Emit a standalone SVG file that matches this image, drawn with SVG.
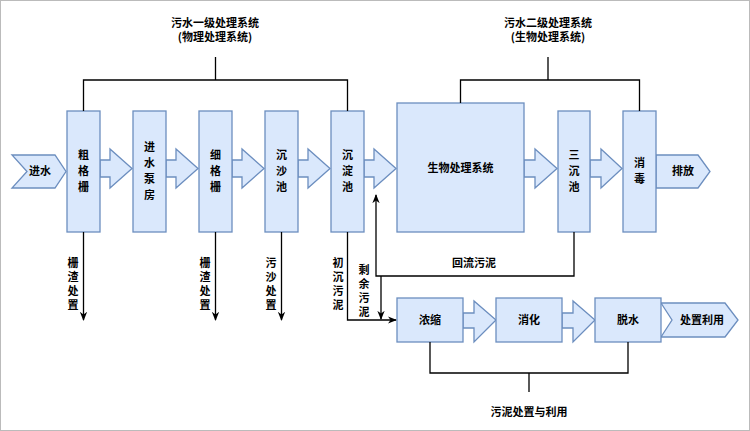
<svg xmlns="http://www.w3.org/2000/svg" width="750" height="431" viewBox="0 0 750 431">
<defs>
<style>
.b{fill:#dae8fc;stroke:#6c8ebf;stroke-width:1.3}
.l{fill:none;stroke:#000;stroke-width:1.3}
text{font-family:"Noto Sans CJK SC","Liberation Sans",sans-serif;font-size:11px;font-weight:bold;text-anchor:middle;fill:#000}
</style>
<marker id="a" viewBox="0 0 10 10" refX="9" refY="5" markerWidth="7" markerHeight="7" orient="auto"><path d="M0,1L10,5L0,9L3,5Z" fill="#000"/></marker>
</defs>
<rect x="0.5" y="0.5" width="749" height="430" fill="#fff" stroke="#bbb"/>
<g id="arrows">
<path class="b" d="M12,155H55L66,171.5L55,188H12L27,171.5Z"/>
<path class="b" d="M100,160H110V149L132,168.5L110,188V177H100Z"/>
<path class="b" d="M166,160H176V149L198,168.5L176,188V177H166Z"/>
<path class="b" d="M232,160H242V149L264,168.5L242,188V177H232Z"/>
<path class="b" d="M298,160H308V149L330,168.5L308,188V177H298Z"/>
<path class="b" d="M364,160H374V149L396,168.5L374,188V177H364Z"/>
<path class="b" d="M524,160H535V149L557,168.5L535,188V177H524Z"/>
<path class="b" d="M590,160H601V149L622,168.5L601,188V177H590Z"/>
<path class="b" d="M656,155H698L710,171.5L698,188H656Z"/>
<path class="b" d="M463,313H474V301L496,320L474,342V328H463Z"/>
<path class="b" d="M562,313H573V301L595,320L573,342V328H562Z"/>
<path class="b" d="M661,303H725L738,320L725,337H661L672,320Z"/>
</g>
<text x="40" y="175">进水</text>
<text x="683" y="175">排放</text>
<text x="702" y="324">处置利用</text>
<g id="n1"><rect class="b" x="67" y="111" width="33" height="121"/><text x="83.5" y="159">粗</text><text x="83.5" y="175">格</text><text x="83.5" y="191">栅</text></g>
<g id="n2"><rect class="b" x="133" y="111" width="33" height="121"/><text x="149.5" y="151">进</text><text x="149.5" y="167">水</text><text x="149.5" y="183">泵</text><text x="149.5" y="199">房</text></g>
<g id="n3"><rect class="b" x="199" y="111" width="33" height="121"/><text x="215.5" y="159">细</text><text x="215.5" y="175">格</text><text x="215.5" y="191">栅</text></g>
<g id="n4"><rect class="b" x="265" y="111" width="33" height="121"/><text x="281.5" y="159">沉</text><text x="281.5" y="175">沙</text><text x="281.5" y="191">池</text></g>
<g id="n5"><rect class="b" x="331" y="111" width="33" height="121"/><text x="347.5" y="159">沉</text><text x="347.5" y="175">淀</text><text x="347.5" y="191">池</text></g>
<g id="n6"><rect class="b" x="397" y="103" width="127" height="129"/><text x="460.5" y="172">生物处理系统</text></g>
<g id="n7"><rect class="b" x="558" y="111" width="32" height="121"/><text x="574" y="159">三</text><text x="574" y="175">沉</text><text x="574" y="191">池</text></g>
<g id="n8"><rect class="b" x="623" y="111" width="33" height="121"/><text x="639.5" y="167">消</text><text x="639.5" y="183">毒</text></g>
<g id="n9"><rect class="b" x="397" y="298" width="66" height="44"/><text x="430" y="324">浓缩</text></g>
<g id="n10"><rect class="b" x="496" y="298" width="66" height="44"/><text x="529" y="324">消化</text></g>
<g id="n11"><rect class="b" x="595" y="298" width="66" height="44"/><text x="628" y="324">脱水</text></g>
<g id="connectors">
<path class="l" d="M83.5,111V80H347.5V111M215.5,80V57"/>
<path class="l" d="M460.5,103V80H639.5V111M548,80V57"/>
<path class="l" d="M430,342V373H628V342M529,373V392"/>
<path class="l" marker-end="url(#a)" d="M83.5,232V320"/>
<path class="l" marker-end="url(#a)" d="M215.5,232V320"/>
<path class="l" marker-end="url(#a)" d="M281.5,232V320"/>
<path class="l" marker-end="url(#a)" d="M347.5,232V320H396"/>
<path class="l" marker-end="url(#a)" d="M574,232V276H376V195"/>
<path class="l" marker-end="url(#a)" d="M381,276V319"/>
</g>
<text x="215" y="27">污水一级处理系统</text>
<text x="215" y="41">(物理处理系统)</text>
<text x="548" y="27">污水二级处理系统</text>
<text x="548" y="41">(生物处理系统)</text>
<text x="474" y="267">回流污泥</text>
<text x="529" y="416">污泥处置与利用</text>
<g>
<text x="73" y="267">栅</text><text x="73" y="281">渣</text><text x="73" y="295">处</text><text x="73" y="309">置</text>
<text x="205" y="267">栅</text><text x="205" y="281">渣</text><text x="205" y="295">处</text><text x="205" y="309">置</text>
<text x="271" y="267">污</text><text x="271" y="281">沙</text><text x="271" y="295">处</text><text x="271" y="309">置</text>
<text x="338" y="267">初</text><text x="338" y="281">沉</text><text x="338" y="295">污</text><text x="338" y="309">泥</text>
<text x="364" y="274">剩</text><text x="364" y="288">余</text><text x="364" y="302">污</text><text x="364" y="316">泥</text>
</g>
</svg>
